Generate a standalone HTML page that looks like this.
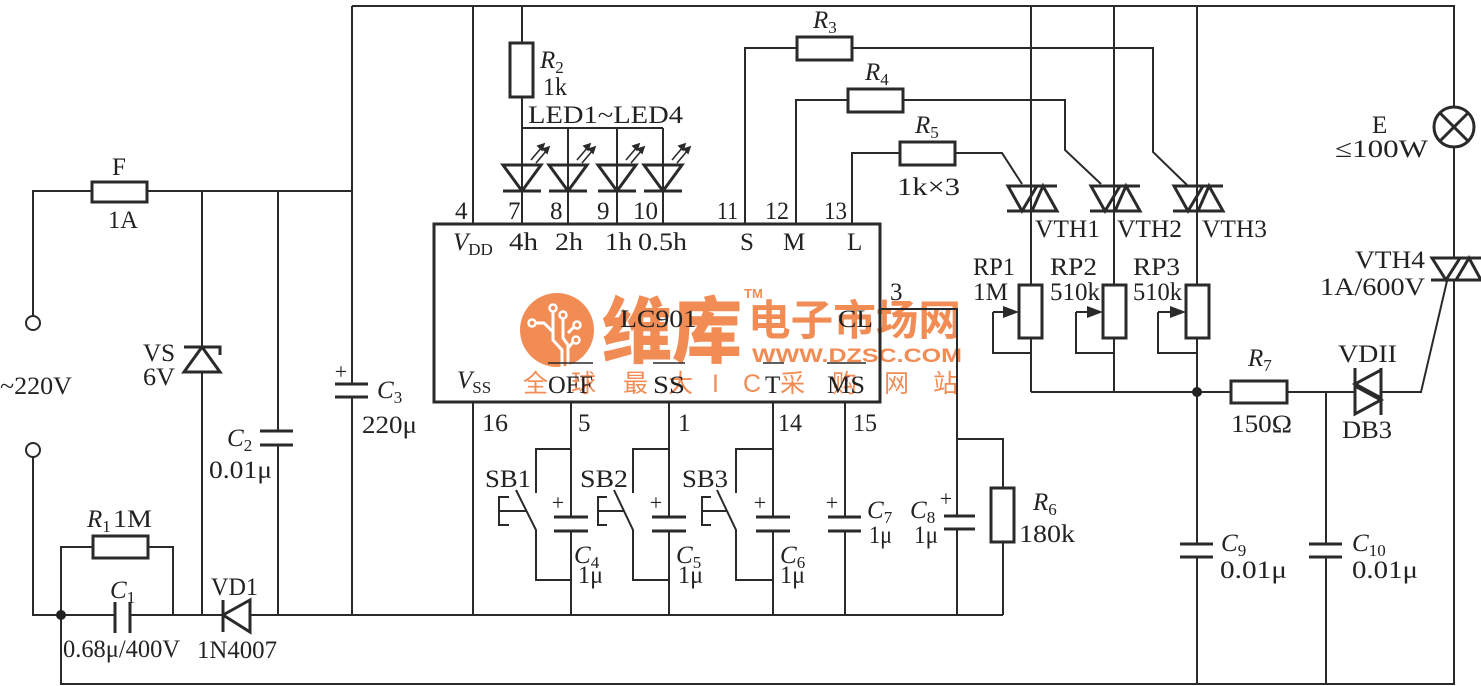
<!DOCTYPE html>
<html><head><meta charset="utf-8"><style>
html,body{margin:0;padding:0;background:#fff;}
svg{display:block;}
text{font-family:"Liberation Serif","Times New Roman",serif;font-size:25px;fill:#222;}
.s{font-size:17px;font-style:normal;}
.i{font-style:italic;}
.p{font-size:22px;}
.w{fill:none;stroke:#2a2a2a;stroke-width:2;}
.b{fill:none;stroke:#2a2a2a;stroke-width:3;}
.wm{fill:#F28C55;font-family:"Noto Sans CJK SC","WenQuanYi Zen Hei",sans-serif;}
.wml{fill:#F28C55;font-family:"Liberation Sans",sans-serif;font-weight:bold;}
</style></head><body>
<svg width="1481" height="686" viewBox="0 0 1481 686" xmlns="http://www.w3.org/2000/svg">
<rect width="1481" height="686" fill="#fff"/>

<!-- watermark -->
<g>
<circle cx="557" cy="330" r="37" fill="#F28C55"/>
<g fill="none" stroke="#fff" stroke-width="3">
<path d="M553,312 V340 L562,350 V368"/>
<path d="M563,319 V338 L568,345 V368"/>
<path d="M574,327 L568,333"/>
<path d="M573,342 L568,348"/>
<path d="M536,323 H544 L553,332"/>
</g>
<g fill="#F28C55" stroke="#fff" stroke-width="2.5">
<circle cx="553" cy="308" r="3.5"/><circle cx="563" cy="315" r="3.5"/>
<circle cx="577" cy="325" r="3.5"/><circle cx="576" cy="340" r="3.5"/>
<circle cx="532" cy="323" r="3.5"/>
</g>
<text class="wm" x="602" y="357" style="font-size:72px;font-weight:900" textLength="140" lengthAdjust="spacingAndGlyphs">维库</text>
<text class="wml" x="744" y="298" style="font-size:13px">TM</text>
<text class="wm" x="748" y="335" style="font-size:42px;font-weight:bold" textLength="213" lengthAdjust="spacingAndGlyphs">电子市场网</text>
<text class="wml" x="752" y="362" style="font-size:19px" textLength="210" lengthAdjust="spacingAndGlyphs">WWW.DZSC.COM</text>
<text class="wm" x="523" y="392">全</text>
<text class="wm" x="571" y="392">球</text>
<text class="wm" x="623" y="392">最</text>
<text class="wm" x="668" y="392">大</text>
<text class="wm" x="712" y="392" style="font-family:'Liberation Sans',sans-serif">I</text>
<text class="wm" x="743" y="392" style="font-family:'Liberation Sans',sans-serif">C</text>
<text class="wm" x="780" y="392">采</text>
<text class="wm" x="832" y="392">购</text>
<text class="wm" x="884" y="392">网</text>
<text class="wm" x="933" y="392">站</text>
</g>

<!-- ===== wires ===== -->
<g class="w">
<path d="M352,6 H1454 V107"/>
<path d="M473,6 V224"/>
<path d="M522,6 V43"/>
<path d="M522,97 V128 H663"/>
<path d="M522,128 V224 M568,128 V224 M617,128 V224 M663,128 V224"/>
<path d="M33,316 V191 H92"/>
<path d="M147,191 H352"/>
<path d="M352,6 V384 M352,397 V615"/>
<path d="M202,191 V347 M202,372 V615"/>
<path d="M278,191 V431 M278,445 V615"/>
<path d="M33,457 V615 H115"/>
<path d="M130,615 H223"/>
<path d="M250,615 H1003"/>
<path d="M61,615 V547 H93 M148,547 H173 V615"/>
<path d="M61,615 V684 H1454 V280"/>
<path d="M473,402 V615"/>
<path d="M571,402 V517 M571,531 V615"/>
<path d="M669,402 V517 M669,531 V615"/>
<path d="M773,402 V517 M773,531 V615"/>
<path d="M845,402 V517 M845,531 V615"/>
<path d="M880,309 H957 V516 M957,529 V615"/>
<path d="M957,439 H1003 V488 M1003,542 V615"/>
<path d="M571,449 H536 V493 M516,490 L536,530 V580 H571"/>
<path d="M509,497 H499 V525 H509 M499,511 H526"/>
<path d="M669,449 H633 V493 M614,490 L633,530 V580 H669"/>
<path d="M607,497 H598 V525 H607 M598,511 H624"/>
<path d="M773,449 H736 V493 M717,490 L736,530 V580 H773"/>
<path d="M711,497 H702 V525 H711 M702,511 H727"/>
<path d="M745,224 V48 H797 M852,48 H1153 V152 L1187,185"/>
<path d="M796,224 V100 H848 M903,100 H1065 V150 L1101,184"/>
<path d="M852,224 V153 H900 M955,153 H1002 L1022,184"/>
<path d="M1031,6 V285 M1114,6 V285 M1197,6 V285"/>
<path d="M993,312 V353 H1031 M1031,338 V392"/>
<path d="M1076,312 V353 H1114 M1114,338 V392"/>
<path d="M1158,312 V353 H1197 M1197,338 V392"/>
<path d="M993,312 H1006 M1076,312 H1089 M1158,312 H1173"/>
<path d="M1031,392 H1231 M1287,392 H1355 M1381,392 H1421 L1447,281"/>
<path d="M1197,392 V544 M1197,557 V684"/>
<path d="M1326,392 V544 M1326,557 V684"/>
<path d="M1454,147 V258"/>
</g>

<circle cx="33" cy="323" r="7" fill="#fff" stroke="#2a2a2a" stroke-width="2"/>
<circle cx="33" cy="450" r="7" fill="#fff" stroke="#2a2a2a" stroke-width="2"/>
<circle cx="61" cy="615" r="5" fill="#222"/>
<circle cx="1197" cy="392" r="5" fill="#222"/>

<g class="b">
<rect x="92" y="182" width="55" height="20"/>
<rect x="93" y="536" width="55" height="22"/>
<rect x="510" y="43" width="23" height="54"/>
<rect x="797" y="37" width="55" height="23"/>
<rect x="848" y="89" width="55" height="23"/>
<rect x="900" y="142" width="55" height="23"/>
<rect x="991" y="488" width="23" height="54"/>
<rect x="1019" y="285" width="23" height="53"/>
<rect x="1103" y="285" width="23" height="53"/>
<rect x="1186" y="285" width="23" height="53"/>
<rect x="1231" y="381" width="56" height="22"/>
<rect x="434" y="224" width="446" height="178"/>
<path d="M335,384 H368 M335,397 H368"/>
<path d="M260,431 H293 M260,445 H293"/>
<path d="M115,602 V633 M130,602 V633"/>
<path d="M554,517 H588 M554,531 H588"/>
<path d="M652,517 H686 M652,531 H686"/>
<path d="M756,517 H790 M756,531 H790"/>
<path d="M828,517 H861 M828,531 H861"/>
<path d="M944,516 H975 M944,529 H975"/>
<path d="M1180,544 H1213 M1180,557 H1213"/>
<path d="M1309,544 H1342 M1309,557 H1342"/>
<path d="M184,347 H220 V355"/>
<path d="M184,372 H220 L202,347 Z"/>
<path d="M223,600 V632"/>
<path d="M223,615 L250,600 V632 Z"/>
<path d="M503,165 H541 L522,191 Z M503,191 H541"/>
<path d="M549,165 H587 L568,191 Z M549,191 H587"/>
<path d="M598,165 H636 L617,191 Z M598,191 H636"/>
<path d="M644,165 H682 L663,191 Z M644,191 H682"/>
<path d="M1355,368 V415 M1381,368 V415"/>
<path d="M1381,370 V398 L1355,384 Z"/>
<path d="M1355,386 V414 L1381,400 Z"/>
</g>

<g stroke="#2a2a2a" stroke-width="1.6" fill="#2a2a2a">
<path d="M531,160 L542,147 M536,163 L547,150" fill="none"/>
<path d="M544,144 L538,146 L542,150 Z M549,147 L543,149 L547,153 Z"/>
<path d="M577,160 L588,147 M582,163 L593,150" fill="none"/>
<path d="M590,144 L584,146 L588,150 Z M595,147 L589,149 L593,153 Z"/>
<path d="M626,160 L637,147 M631,163 L642,150" fill="none"/>
<path d="M639,144 L633,146 L637,150 Z M644,147 L638,149 L642,153 Z"/>
<path d="M672,160 L683,147 M677,163 L688,150" fill="none"/>
<path d="M685,144 L679,146 L683,150 Z M690,147 L684,149 L688,153 Z"/>
</g>

<g fill="#2a2a2a">
<path d="M1019,312 L1003,306 L1003,318 Z"/>
<path d="M1103,312 L1087,306 L1087,318 Z"/>
<path d="M1186,312 L1170,306 L1170,318 Z"/>
</g>

<g class="b" stroke-width="2.5">
<path d="M1007,186 H1057 M1007,211 H1057 M1008,186 H1037 L1022,211 Z M1032,211 H1057 L1043,186 Z"/>
<path d="M1090,186 H1140 M1090,211 H1140 M1091,186 H1120 L1105,211 Z M1115,211 H1140 L1126,186 Z"/>
<path d="M1173,186 H1223 M1173,211 H1223 M1174,186 H1203 L1188,211 Z M1198,211 H1223 L1209,186 Z"/>
<path d="M1431,258 H1481 M1431,280 H1481 M1432,258 H1460 L1446,280 Z M1456,280 H1481 L1469,258 Z"/>
</g>

<circle cx="1454" cy="127" r="20" fill="#fff" stroke="#2a2a2a" stroke-width="3"/>
<path d="M1440,113 L1468,141 M1468,113 L1440,141" stroke="#2a2a2a" stroke-width="3"/>

<g stroke="#2a2a2a" stroke-width="1.5">
<path d="M548,363 H593 M653,363 H685 M763,363 H784 M827,363 H866"/>
</g>

<!-- ===== labels ===== -->
<text x="112" y="175">F</text>
<text x="108" y="228" textLength="30" lengthAdjust="spacingAndGlyphs">1A</text>
<text x="0" y="394" textLength="72" lengthAdjust="spacingAndGlyphs">~220V</text>
<text x="143" y="361" textLength="32" lengthAdjust="spacingAndGlyphs">VS</text>
<text x="143" y="385" textLength="32" lengthAdjust="spacingAndGlyphs">6V</text>
<text x="227" y="446"><tspan class="i">C</tspan><tspan class="s" dy="5">2</tspan></text>
<text x="209" y="478" textLength="63" lengthAdjust="spacingAndGlyphs">0.01μ</text>
<text class="p" x="341" y="379" text-anchor="middle">+</text>
<text x="377" y="398"><tspan class="i">C</tspan><tspan class="s" dy="5">3</tspan></text>
<text x="362" y="433" textLength="55" lengthAdjust="spacingAndGlyphs">220μ</text>
<text x="87" y="527"><tspan class="i">R</tspan><tspan class="s" dy="5">1</tspan></text>
<text x="113" y="527" textLength="39" lengthAdjust="spacingAndGlyphs">1M</text>
<text x="110" y="598"><tspan class="i">C</tspan><tspan class="s" dy="5">1</tspan></text>
<text x="211" y="595" textLength="47" lengthAdjust="spacingAndGlyphs">VD1</text>
<text x="63" y="657" textLength="117" lengthAdjust="spacingAndGlyphs">0.68μ/400V</text>
<text x="197" y="658" textLength="80" lengthAdjust="spacingAndGlyphs">1N4007</text>

<text x="540" y="68"><tspan class="i">R</tspan><tspan class="s" dy="5">2</tspan></text>
<text x="543" y="95" textLength="24" lengthAdjust="spacingAndGlyphs">1k</text>
<text x="528" y="123" textLength="155" lengthAdjust="spacingAndGlyphs">LED1~LED4</text>

<text x="455" y="219">4</text>
<text x="508" y="219">7</text>
<text x="550" y="219">8</text>
<text x="597" y="219">9</text>
<text x="633" y="219" textLength="25" lengthAdjust="spacingAndGlyphs">10</text>
<text x="717" y="219" textLength="21" lengthAdjust="spacingAndGlyphs">11</text>
<text x="765" y="219" textLength="24" lengthAdjust="spacingAndGlyphs">12</text>
<text x="824" y="219" textLength="23" lengthAdjust="spacingAndGlyphs">13</text>

<text x="813" y="28"><tspan class="i">R</tspan><tspan class="s" dy="5">3</tspan></text>
<text x="865" y="80"><tspan class="i">R</tspan><tspan class="s" dy="5">4</tspan></text>
<text x="915" y="133"><tspan class="i">R</tspan><tspan class="s" dy="5">5</tspan></text>
<text x="897" y="195" textLength="63" lengthAdjust="spacingAndGlyphs">1k×3</text>

<text x="453" y="250"><tspan class="i">V</tspan><tspan class="s" dy="5">DD</tspan></text>
<text x="509" y="250" textLength="29" lengthAdjust="spacingAndGlyphs">4h</text>
<text x="555" y="250" textLength="28" lengthAdjust="spacingAndGlyphs">2h</text>
<text x="605" y="250" textLength="27" lengthAdjust="spacingAndGlyphs">1h</text>
<text x="638" y="250" textLength="49" lengthAdjust="spacingAndGlyphs">0.5h</text>
<text x="740" y="250">S</text>
<text x="783" y="250">M</text>
<text x="847" y="250">L</text>
<text x="620" y="327" textLength="77" lengthAdjust="spacingAndGlyphs">LC901</text>
<text x="838" y="327" textLength="35" lengthAdjust="spacingAndGlyphs">CL</text>
<text x="890" y="300">3</text>
<text x="457" y="388"><tspan class="i">V</tspan><tspan class="s" dy="5">SS</tspan></text>
<text x="548" y="393" textLength="45" lengthAdjust="spacingAndGlyphs">OFF</text>
<text x="653" y="393" textLength="32" lengthAdjust="spacingAndGlyphs">SS</text>
<text x="765" y="393">T</text>
<text x="827" y="393" textLength="38" lengthAdjust="spacingAndGlyphs">MS</text>

<text x="482" y="431" textLength="26" lengthAdjust="spacingAndGlyphs">16</text>
<text x="578" y="431">5</text>
<text x="678" y="431">1</text>
<text x="778" y="431" textLength="24" lengthAdjust="spacingAndGlyphs">14</text>
<text x="853" y="431" textLength="24" lengthAdjust="spacingAndGlyphs">15</text>

<text x="485" y="487" textLength="46" lengthAdjust="spacingAndGlyphs">SB1</text>
<text x="580" y="487" textLength="48" lengthAdjust="spacingAndGlyphs">SB2</text>
<text x="682" y="487" textLength="46" lengthAdjust="spacingAndGlyphs">SB3</text>

<text class="p" x="558" y="510" text-anchor="middle">+</text>
<text class="p" x="656" y="510" text-anchor="middle">+</text>
<text class="p" x="760" y="510" text-anchor="middle">+</text>
<text class="p" x="832" y="510" text-anchor="middle">+</text>
<text class="p" x="946" y="506" text-anchor="middle">+</text>

<text x="574" y="563"><tspan class="i">C</tspan><tspan class="s" dy="5">4</tspan></text>
<text x="578" y="583" textLength="25" lengthAdjust="spacingAndGlyphs">1μ</text>
<text x="676" y="563"><tspan class="i">C</tspan><tspan class="s" dy="5">5</tspan></text>
<text x="678" y="583" textLength="25" lengthAdjust="spacingAndGlyphs">1μ</text>
<text x="780" y="563"><tspan class="i">C</tspan><tspan class="s" dy="5">6</tspan></text>
<text x="780" y="583" textLength="25" lengthAdjust="spacingAndGlyphs">1μ</text>
<text x="867" y="518"><tspan class="i">C</tspan><tspan class="s" dy="5">7</tspan></text>
<text x="869" y="543" textLength="23" lengthAdjust="spacingAndGlyphs">1μ</text>
<text x="910" y="518"><tspan class="i">C</tspan><tspan class="s" dy="5">8</tspan></text>
<text x="914" y="543" textLength="24" lengthAdjust="spacingAndGlyphs">1μ</text>
<text x="1033" y="510"><tspan class="i">R</tspan><tspan class="s" dy="5">6</tspan></text>
<text x="1019" y="542" textLength="56" lengthAdjust="spacingAndGlyphs">180k</text>

<text x="1035" y="237" textLength="65" lengthAdjust="spacingAndGlyphs">VTH1</text>
<text x="1117" y="237" textLength="65" lengthAdjust="spacingAndGlyphs">VTH2</text>
<text x="1202" y="237" textLength="65" lengthAdjust="spacingAndGlyphs">VTH3</text>
<text x="1372" y="133">E</text>
<text x="1335" y="157" textLength="93" lengthAdjust="spacingAndGlyphs">≤100W</text>

<text x="973" y="275" textLength="42" lengthAdjust="spacingAndGlyphs">RP1</text>
<text x="973" y="300" textLength="35" lengthAdjust="spacingAndGlyphs">1M</text>
<text x="1050" y="275" textLength="47" lengthAdjust="spacingAndGlyphs">RP2</text>
<text x="1050" y="300" textLength="50" lengthAdjust="spacingAndGlyphs">510k</text>
<text x="1133" y="275" textLength="47" lengthAdjust="spacingAndGlyphs">RP3</text>
<text x="1133" y="300" textLength="49" lengthAdjust="spacingAndGlyphs">510k</text>

<text x="1355" y="268" textLength="70" lengthAdjust="spacingAndGlyphs">VTH4</text>
<text x="1320" y="295" textLength="105" lengthAdjust="spacingAndGlyphs">1A/600V</text>
<text x="1248" y="366"><tspan class="i">R</tspan><tspan class="s" dy="5">7</tspan></text>
<text x="1338" y="362" textLength="59" lengthAdjust="spacingAndGlyphs">VDII</text>
<text x="1231" y="432" textLength="61" lengthAdjust="spacingAndGlyphs">150Ω</text>
<text x="1342" y="438" textLength="50" lengthAdjust="spacingAndGlyphs">DB3</text>
<text x="1221" y="551"><tspan class="i">C</tspan><tspan class="s" dy="5">9</tspan></text>
<text x="1220" y="578" textLength="67" lengthAdjust="spacingAndGlyphs">0.01μ</text>
<text x="1352" y="551"><tspan class="i">C</tspan><tspan class="s" dy="5">10</tspan></text>
<text x="1352" y="578" textLength="66" lengthAdjust="spacingAndGlyphs">0.01μ</text>
</svg>
</body></html>
